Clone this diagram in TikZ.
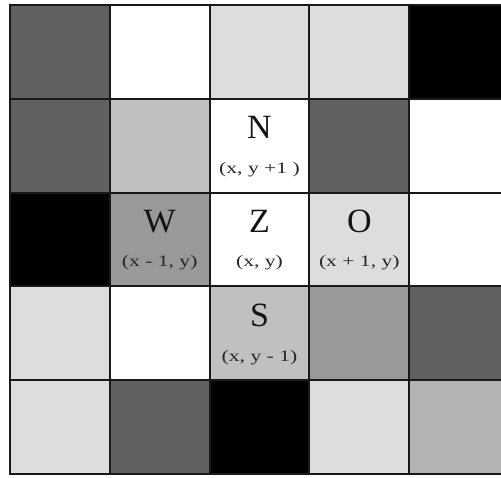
\documentclass[tikz,border=0pt]{standalone}
\usepackage{fontspec}
\setmainfont{Liberation Serif}
\definecolor{cdark}{HTML}{616161}
\definecolor{clight}{HTML}{DDDDDD}
\definecolor{cmidl}{HTML}{C0C0C0}
\definecolor{cmid}{HTML}{999999}
\definecolor{cmidb}{HTML}{B3B3B3}
\begin{document}
\begin{tikzpicture}[x=1pt,y=-1pt,
  cellbox/.style={draw=black!90,line width=2pt},
  bigletter/.style={font=\fontsize{34}{34}\selectfont, text=black!92, inner sep=0pt},
  coordtext/.style={font=\fontsize{16}{16}\selectfont, text=black!85, inner sep=0pt}]
\useasboundingbox (0,0) rectangle (501,477);
\clip (0,0) rectangle (501,477);
\def\cw{99.8}
\def\ch{93.8}
\foreach \row [count=\r from 0] in {
  {cdark,white,clight,clight,black},
  {cdark,cmidl,white,cdark,white},
  {black,cmid,white,clight,white},
  {clight,white,cmidl,cmid,cdark},
  {clight,cdark,black,clight,cmidb}} {
  \foreach \col [count=\c from 0] in \row {
    \path[cellbox, fill=\col] ({10+\c*\cw},{5+\r*\ch}) rectangle ++(\cw,\ch);
  }
}
% letters and coordinates
\node[bigletter] (N) at (259.5,127.7) {N};
\node[coordtext] (Nc) at (259.5,169.7) {\scalebox{1.35}[1]{(x, y +1 )}};
\node[bigletter] (W) at (159.7,221.5) {W};
\node[coordtext] (Wc) at (159.7,262.5) {\scalebox{1.35}[1]{(x - 1, y)}};
\node[bigletter] (Z) at (259.5,221.5) {Z};
\node[coordtext] (Zc) at (259.5,262.5) {\scalebox{1.35}[1]{(x, y)}};
\node[bigletter] (O) at (359.3,221.5) {O};
\node[coordtext] (Oc) at (359.3,262.5) {\scalebox{1.35}[1]{(x + 1, y)}};
\node[bigletter] (S) at (259.5,315.3) {S};
\node[coordtext] (Sc) at (259.5,357.3) {\scalebox{1.35}[1]{(x, y - 1)}};
\end{tikzpicture}
\end{document}
